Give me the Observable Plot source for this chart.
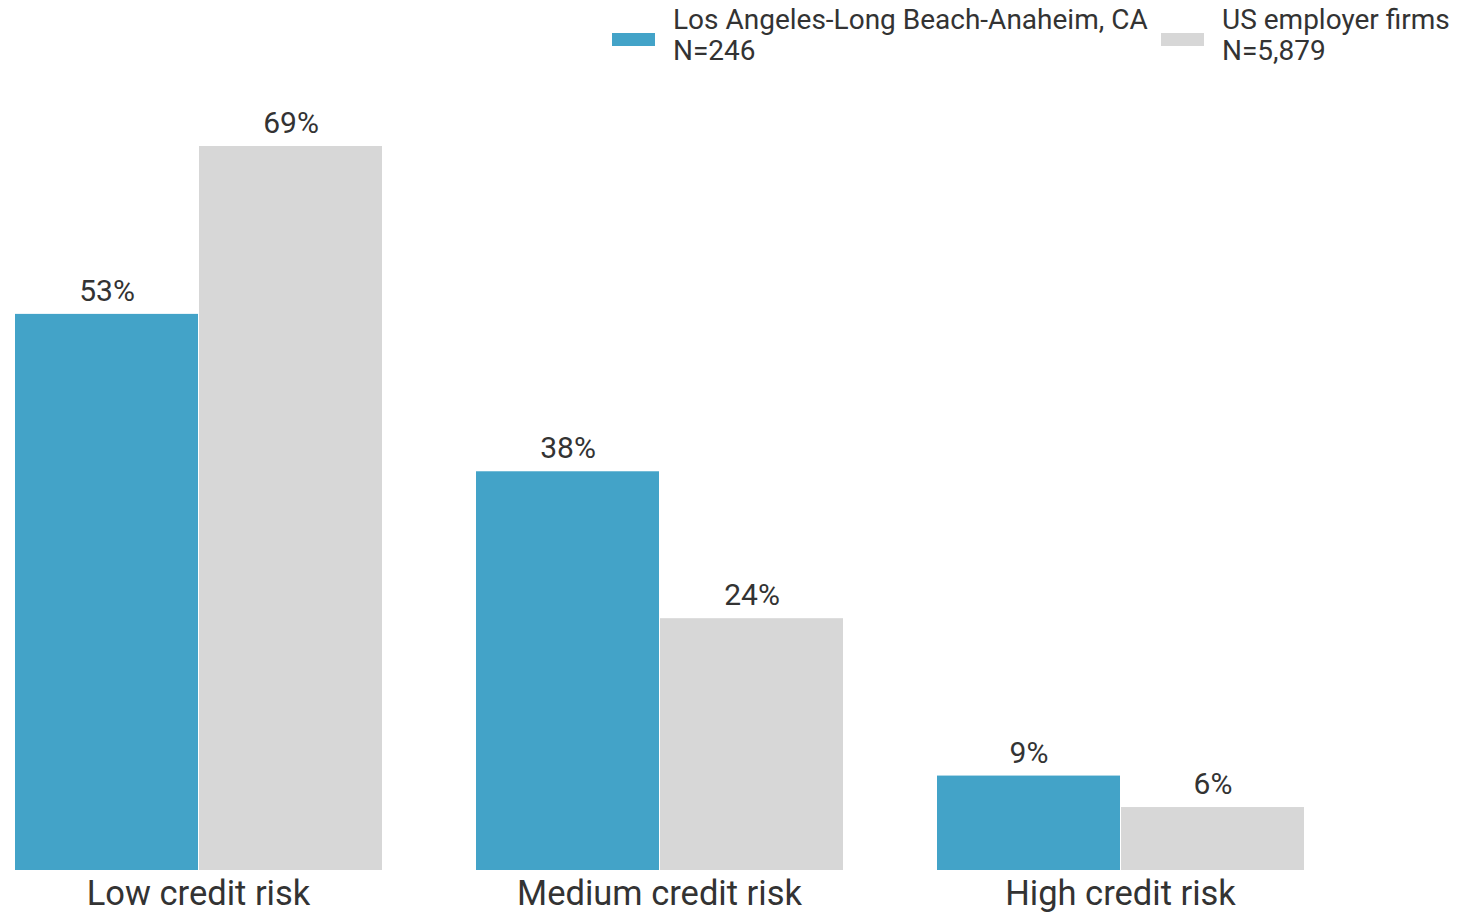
<!DOCTYPE html>
<html>
<head>
<meta charset="utf-8">
<script src="https://cdn.jsdelivr.net/npm/d3@7"></script>
<script src="https://cdn.jsdelivr.net/npm/@observablehq/plot@0.6"></script>
<style>
  html, body { margin: 0; padding: 0; background: #fff; }
  body { font-family: Roboto, "Noto Sans", sans-serif; color: #333; width: 1460px; height: 914px; position: relative; overflow: hidden; }
  #legend { position: absolute; top: 0; left: 0; width: 1460px; height: 80px; }
  .item { position: absolute; top: 4px; }
  .sw { position: absolute; top: 29px; width: 43px; height: 13px; }
  .lab { position: absolute; left: 61px; top: 0; font-size: 28px; line-height: 31px; white-space: nowrap; color: #333; }
  #chart { position: absolute; top: 80px; left: 0; }
</style>
</head>
<body>
<div id="legend"></div>
<div id="chart"></div>
<script>
const categories = ["Low credit risk", "Medium credit risk", "High credit risk"];
const groups = ["Los Angeles-Long Beach-Anaheim, CA", "US employer firms"];
const sampleSizes = ["N=246", "N=5,879"];
const laValues = [53, 38, 9];
const usValues = [69, 24, 6];
const colors = ["#43a3c8", "#d7d7d7"];

const data = [];
categories.forEach((c, i) => {
  data.push({risk: c, group: groups[0], value: laValues[i]});
  data.push({risk: c, group: groups[1], value: usValues[i]});
});

// legend
const legend = document.getElementById("legend");
const lefts = [612, 1161];
groups.forEach((g, i) => {
  const item = document.createElement("div");
  item.className = "item";
  item.style.left = lefts[i] + "px";
  const sw = document.createElement("div");
  sw.className = "sw";
  sw.style.background = colors[i];
  const lab = document.createElement("div");
  lab.className = "lab";
  lab.innerHTML = g + "<br>" + sampleSizes[i];
  item.appendChild(sw);
  item.appendChild(lab);
  legend.appendChild(item);
});

const chart = Plot.plot({
  width: 1460,
  height: 834,
  marginLeft: 13.5,
  marginRight: 155,
  marginTop: 66,
  marginBottom: 44,
  style: {fontFamily: "Roboto, 'Noto Sans', sans-serif", color: "#333", background: "#fff"},
  fx: {domain: categories, paddingInner: 0.2017, paddingOuter: 0, label: null, axis: null},
  x: {domain: groups, padding: 0, axis: null},
  y: {domain: [0, 69], axis: null},
  color: {domain: groups, range: colors},
  marks: [
    Plot.barY(data, {fx: "risk", x: "group", y: "value", fill: "group", insetLeft: 0.5, insetRight: 0.5}),
    Plot.text(data, {fx: "risk", x: "group", y: "value", text: d => d.value + "%", dy: -23, fontSize: 30, fill: "#333"}),
    Plot.axisFx({anchor: "bottom", tickSize: 0, tickPadding: 9.5, fontSize: 34.5, label: null, fill: "#333"})
  ]
});
document.getElementById("chart").appendChild(chart);
</script>
</body>
</html>
